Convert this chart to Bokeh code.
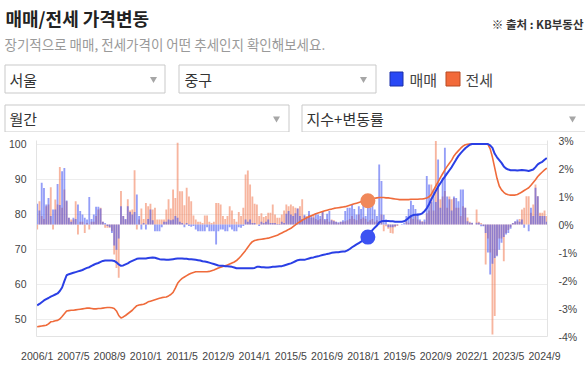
from bokeh.plotting import figure
from bokeh.layouts import column
from bokeh.models import Range1d, LinearAxis, FixedTicker, PrintfTickFormatter
from bokeh.core.properties import value
from bokeh.embed import file_html
from bokeh.resources import INLINE

FONT = "Noto Sans CJK KR"
NUM_FONT = "Liberation Sans"

# ---------------- data ----------------
N_MONTHS = 226  # 2006/1 .. 2024/10
MONTHS = [f"{2006 + i // 12}/{i % 12 + 1}" for i in range(N_MONTHS)]
TICK_IDX = list(range(0, 225, 16))
TICK_LABELS = [MONTHS[i] for i in TICK_IDX]
HOVER_IDX = 146  # 2018/3

# 매매 지수
BUY_INDEX = [
    53.9, 54.3, 54.8, 55.3, 55.7, 56.0, 56.4, 56.7, 57.0, 57.3, 58.0, 59.0,
    60.8, 62.5, 62.8, 63.0, 63.2, 63.4, 63.6, 63.8, 64.0, 64.3, 64.6, 64.8,
    65.2, 65.5, 65.8, 66.0, 66.3, 66.6, 66.7, 66.7, 66.7, 66.7, 66.6, 66.2,
    65.6, 65.2, 65.3, 65.6, 65.9, 66.3, 66.6, 66.9, 67.2, 67.3, 67.3, 67.3,
    67.3, 67.4, 67.5, 67.6, 67.5, 67.3, 67.1, 67.0, 67.0, 66.9, 66.9, 67.0,
    67.1, 67.2, 67.3, 67.3, 67.3, 67.2, 67.2, 67.1, 67.1, 67.0, 66.9, 66.8,
    66.7, 66.5, 66.4, 66.3, 66.1, 65.9, 65.7, 65.5, 65.3, 65.2, 65.2, 65.1,
    65.1, 65.0, 64.9, 64.7, 64.5, 64.5, 64.5, 64.5, 64.5, 64.5, 64.5, 64.5,
    64.6, 64.9, 64.9, 64.8, 64.8, 64.7, 64.7, 64.8, 64.9, 64.9, 65.0, 65.1,
    65.1, 65.3, 65.5, 65.7, 65.9, 66.2, 66.5, 66.8, 66.9, 66.9, 66.9, 67.1,
    67.3, 67.5, 67.6, 67.8, 67.9, 68.1, 68.3, 68.4, 68.6, 68.7, 68.9, 69.0,
    69.1, 69.1, 69.2, 69.3, 69.3, 69.6, 70.0, 70.5, 70.9, 71.3, 71.7, 72.1,
    72.6, 73.0, 73.4, 74.4, 75.4, 76.1, 76.7, 77.6, 77.9, 78.0, 78.0, 78.0,
    77.9, 77.9, 77.8, 77.8, 77.8, 77.8, 77.9, 78.3, 78.9, 79.4, 79.7, 79.8,
    79.8, 79.9, 80.2, 80.8, 81.6, 82.8, 84.2, 85.4, 86.6, 87.8, 88.8, 89.8,
    90.7, 91.6, 92.5, 93.4, 94.5, 95.6, 96.6, 97.4, 98.1, 98.8, 99.3, 99.8,
    100.0, 100.0, 100.0, 100.0, 100.0, 100.0, 100.0, 100.0, 99.6, 98.9, 97.2, 96.2,
    95.4, 94.6, 93.6, 93.0, 92.7, 92.5, 92.5, 92.5, 92.4, 92.5, 92.6, 92.5,
    92.4, 92.3, 92.5, 92.7, 93.4, 94.2, 94.6, 94.9, 95.5, 96.0,
]

# 전세 지수
JEONSE_INDEX = [
    47.8, 47.9, 48.0, 48.1, 48.2, 48.6, 49.2, 49.3, 49.5, 49.6, 50.0, 50.7,
    51.5, 52.3, 52.4, 52.5, 52.5, 52.6, 52.7, 52.8, 52.9, 53.0, 53.1, 53.1,
    53.0, 52.9, 52.9, 53.0, 53.0, 53.1, 53.2, 53.3, 53.3, 53.2, 53.0, 52.3,
    51.0, 50.3, 50.6, 51.0, 51.5, 52.0, 52.5, 53.2, 53.8, 54.0, 54.1, 54.2,
    54.5, 54.9, 55.1, 55.3, 55.5, 55.7, 55.9, 56.1, 56.2, 56.3, 56.6, 57.0,
    57.6, 58.8, 60.2, 61.0, 61.6, 62.0, 62.4, 62.8, 63.1, 63.3, 63.5, 63.5,
    63.5, 63.5, 63.5, 63.5, 63.6, 63.8, 64.0, 64.3, 64.6, 64.8, 65.0, 65.2,
    65.4, 65.7, 66.0, 66.3, 66.7, 67.3, 68.0, 68.8, 69.6, 70.5, 71.4, 72.1,
    72.4, 72.6, 72.7, 72.8, 72.9, 73.0, 73.1, 73.3, 73.5, 73.7, 73.9, 74.3,
    74.6, 74.9, 75.2, 75.6, 75.9, 76.4, 76.9, 77.4, 77.8, 78.2, 78.6, 78.9,
    79.2, 79.5, 79.8, 80.1, 80.3, 80.5, 80.7, 80.9, 81.1, 81.3, 81.4, 81.6,
    81.7, 81.8, 81.9, 82.0, 82.1, 82.3, 82.5, 82.7, 82.9, 83.1, 83.3, 83.5,
    83.6, 83.7, 83.8, 84.1, 84.3, 84.5, 84.6, 84.7, 84.7, 84.7, 84.6, 84.6,
    84.5, 84.4, 84.3, 84.2, 84.1, 84.1, 84.1, 84.1, 84.1, 84.2, 84.2, 84.2,
    84.2, 84.3, 84.3, 84.4, 84.6, 84.9, 85.6, 86.8, 88.0, 89.2, 90.4, 91.5,
    92.6, 93.6, 94.5, 95.4, 96.6, 97.4, 98.1, 98.8, 99.4, 99.8, 99.9, 100.0,
    100.0, 100.0, 100.0, 100.0, 100.0, 100.0, 100.0, 99.9, 98.6, 96.2, 93.2, 90.2,
    88.0, 86.9, 86.2, 85.7, 85.5, 85.4, 85.4, 85.4, 85.6, 85.9, 86.3, 86.7,
    87.1, 87.5, 88.2, 89.0, 89.8, 90.7, 91.4, 92.0, 92.6, 93.1,
]

# 매매 변동률 (%)
BUY_CHANGE = [
    0.74, 0.50, 1.49, 1.30, 0.71, 0.95, 0.30, 0.54, 0.54, 1.45, 0.70, 1.90,
    2.02, 0.86, 0.24, 0.10, 0.24, 0.20, 0.71, 0.48, 0.36, 0.24, 0.18, 0.98,
    0.20, 0.36, 0.63, 0.63, 0.57, 0.10, 0.05, -0.05, -0.10, -0.30, -0.75, -0.90,
    -0.50, 0.65, 0.30, 0.20, 0.65, 0.45, 0.36, 0.45, 1.07, 0.30, -0.18, 0.05,
    -0.18, 0.20, 0.54, 0.15, -0.24, -0.24, -0.24, -0.10, 0.10, 0.10, 0.18, 0.15,
    0.18, 0.30, 0.24, 0.10, 0.05, -0.10, 0.05, -0.05, -0.08, -0.05, -0.18, -0.24,
    -0.24, -0.24, -0.24, -0.10, -0.24, -0.24, -0.24, -0.71, -0.24, -0.18, -0.18, -0.24,
    -0.24, -0.10, -0.18, -0.24, -0.24, -0.10, -0.12, -0.05, 0.18, 0.10, 0.18, 0.05,
    0.05, 0.00, -0.05, 0.10, 0.05, 0.10, 0.18, 0.05, 0.05, 0.05, 0.02, 0.02,
    0.10, 0.05, 0.38, 0.48, 0.36, 0.30, 0.40, 0.57, 0.30, 0.20, 0.35, 0.25,
    0.48, 0.30, 0.25, 0.38, 0.36, 0.30, 0.45, 0.20, 0.38, 0.48, 0.15, 0.12,
    0.10, 0.08, 0.10, 0.15, 0.48, 0.60, 0.60, 0.71, 0.55, 0.36, 0.65, 0.55,
    0.77, 0.30, 0.70, 0.60, 0.83, 0.54, 0.30, 2.14, 1.55, 0.35, 0.18, -0.10,
    -0.10, -0.10, -0.06, -0.03, 0.00, 0.02, 0.05, 0.30, 0.55, 0.85, 0.70, 0.55,
    0.40, 0.18, 0.10, 0.18, 1.73, 1.43, 0.80, 1.25, 0.80, 2.32, 0.60, 1.67,
    2.74, 1.00, 0.90, 0.50, 1.00, 0.95, 0.83, 1.25, 1.25, 0.60, 0.12, 0.06,
    0.06, 0.00, 0.06, 0.06, -0.06, -0.06, -0.30, -1.00, -1.79, -1.40, -1.20, -1.13,
    -0.90, -0.65, -0.45, -0.36, -0.30, -0.15, 0.05, 0.12, 0.18, 0.10, 0.18, -0.12,
    0.00, -0.24, 0.60, 0.30, 1.31, 1.01, 0.30, 0.30, 0.30, 0.10,
]

# 전세 변동률 (%)
JEONSE_CHANGE = [
    -0.18, 0.83, 0.30, 0.20, 0.65, 0.71, 1.33, -0.18, 0.89, 0.71, 2.05, 0.60,
    1.25, 0.83, 0.24, 0.18, 0.18, 0.83, -0.36, 0.10, 0.10, -0.30, 0.05, -0.18,
    0.10, 0.10, 0.30, 0.54, 0.60, 0.10, -0.12, -0.12, -0.12, -0.24, -1.07, -1.55,
    -1.90, 1.20, 0.30, 0.18, 0.90, 0.50, 0.54, 1.94, -0.18, 0.18, 0.57, 0.20,
    0.77, 0.65, 0.74, 0.54, 0.60, 0.18, 0.18, 0.18, 0.18, 0.54, 0.90, 0.57,
    1.25, 0.95, 2.92, 1.19, 1.19, 0.69, 1.31, 1.00, 0.83, 0.32, 0.18, 0.10,
    0.10, 0.05, 0.32, 0.32, 0.10, 0.05, 0.10, 0.77, 0.77, 0.71, 0.30, 0.20,
    0.30, 0.65, 0.50, 0.20, 0.10, 0.45, 0.30, 0.60, 1.79, 1.93, 1.43, 1.00,
    0.74, 0.71, 0.30, 0.40, 0.27, 0.30, 0.42, 0.42, 0.71, 0.36, 0.24, 0.24,
    0.36, 0.50, 0.71, 0.65, 0.71, 0.65, 0.60, 0.57, 0.65, 0.90, 0.30, 0.30,
    0.35, 0.24, 0.36, 0.20, 0.15, 0.20, 0.48, 0.15, 0.20, 0.10, 0.18, 0.15,
    0.10, 0.05, 0.10, 0.10, 0.12, 0.15, 0.20, 0.30, 0.20, 0.15, 0.36, 0.20,
    0.25, 0.20, 0.10, 0.15, 0.20, 0.10, 0.15, 0.10, 0.36, -0.24, -0.06, -0.15,
    -0.30, -0.32, -0.10, -0.05, 0.00, 0.00, 0.00, 0.12, 0.06, 0.30, 0.20, 0.30,
    0.18, 0.12, 0.12, 0.10, 0.40, 0.50, 1.43, 0.50, 2.98, 1.38, 0.90, 1.00,
    1.20, 0.60, 1.00, 0.90, 0.95, 0.60, 0.60, 0.30, 0.65, 0.60, 0.25, 0.10,
    0.05, 0.00, 0.54, 0.10, 0.05, -0.05, -1.43, -0.50, -1.00, -3.93, -3.27, -1.10,
    -0.50, -0.50, -1.31, -0.30, -0.20, -0.10, 0.05, 0.10, 0.12, 0.20, 0.54, 0.60,
    1.01, 1.01, 0.42, 0.71, 1.43, 1.01, 0.42, 0.42, 0.50, 0.30,
]

IDX = list(range(N_MONTHS))

BLUE = "#2a3fe5"
ORANGE = "#ef6b3b"

# ---------------- header ----------------
hdr = figure(width=585, height=132, x_range=Range1d(0, 585), y_range=Range1d(132, 0),
             output_backend="svg", toolbar_location=None, min_border=0,
             x_axis_location=None, y_axis_location=None, outline_line_color=None)
hdr.grid.visible = False
hdr.frame_align = False

hdr.text(x=[5], y=[17], text=["매매/전세 가격변동"], text_font=value(FONT),
         text_font_size="18px", text_font_style="bold", text_color="#222222",
         text_baseline="middle", text_align="left")
hdr.text(x=[583], y=[23], text=["※ 출처 : KB부동산"], text_font=value(FONT),
         text_font_size="11.5px", text_font_style="bold", text_color="#333333",
         text_baseline="middle", text_align="right")
hdr.text(x=[4], y=[43], text=["장기적으로 매매, 전세가격이 어떤 추세인지 확인해보세요."],
         text_font=value(FONT), text_font_size="13.5px", text_color="#9a9a9a",
         text_baseline="middle", text_align="left")

hdr.quad(left=[4.5, 178.5, 4.5, 301.5], right=[164.5, 375.5, 288.5, 590],
         top=[64.5, 64.5, 104.5, 104.5], bottom=[92.5, 92.5, 131.5, 131.5],
         fill_color="white", line_color="#c9c9c9", line_width=1)
hdr.text(x=[9, 184, 9, 306], y=[78.5, 78.5, 118, 118], text=["서울", "중구", "월간", "지수+변동률"],
         text_font=value(FONT), text_font_size="15px", text_color="#333333",
         text_baseline="middle", text_align="left")
hdr.scatter(x=[153, 363, 276, 572], y=[78.5, 78.5, 118, 118], marker="inverted_triangle",
            size=7, fill_color="#a6a6a6", line_color=None)

hdr.quad(left=[389.5], right=[402.5], top=[71.5], bottom=[85.5],
         fill_color="#2848f5", line_color="#1a2fa8", line_width=1)
hdr.quad(left=[445.5], right=[459.5], top=[71.5], bottom=[85.5],
         fill_color="#f26a3a", line_color="#b84a22", line_width=1)
hdr.text(x=[409, 465], y=[78.5, 78.5], text=["매매", "전세"], text_font=value(FONT),
         text_font_size="15px", text_color="#444444", text_baseline="middle", text_align="left")

# ---------------- chart ----------------
p = figure(width=585, height=233, x_range=Range1d(-0.3, 225.3), y_range=Range1d(45, 101),
           output_backend="svg", toolbar_location=None, min_border_left=36,
           min_border_right=38, min_border_top=8, min_border_bottom=29,
           outline_line_color=None)
p.frame_align = False
p.extra_y_ranges = {"pct": Range1d(-4, 3)}

p.vbar(x=IDX, top=JEONSE_CHANGE, bottom=0, width=0.82, y_range_name="pct",
       fill_color="#f07850", fill_alpha=0.55, line_color=None)
p.vbar(x=IDX, top=BUY_CHANGE, bottom=0, width=0.82, y_range_name="pct",
       fill_color="#3d4ef0", fill_alpha=0.55, line_color=None)

p.line(x=IDX, y=JEONSE_INDEX, line_color=ORANGE, line_width=1.6)
p.line(x=IDX, y=BUY_INDEX, line_color=BLUE, line_width=2)

p.scatter(x=[HOVER_IDX], y=[JEONSE_INDEX[HOVER_IDX]], size=15, fill_color="#f0885a", line_color=None)
p.scatter(x=[HOVER_IDX], y=[BUY_INDEX[HOVER_IDX]], size=15, fill_color="#3c52f2", line_color=None)

AX_COLOR = "#e3e3e3"
LABEL_COLOR = "#444444"

p.xaxis.ticker = FixedTicker(ticks=TICK_IDX)
p.xaxis.major_label_overrides = {i: lab for i, lab in zip(TICK_IDX, TICK_LABELS)}
p.yaxis.ticker = FixedTicker(ticks=[50, 60, 70, 80, 90, 100])

right = LinearAxis(y_range_name="pct", ticker=FixedTicker(ticks=[-4, -3, -2, -1, 0, 1, 2, 3]),
                   formatter=PrintfTickFormatter(format="%d%%"))
p.add_layout(right, "right")

for ax in p.axis:
    ax.axis_line_color = AX_COLOR
    ax.major_tick_line_color = None
    ax.minor_tick_line_color = None
    ax.major_tick_out = 0
    ax.major_tick_in = 0
    ax.minor_tick_out = 0
    ax.major_label_text_font = NUM_FONT
    ax.major_label_text_font_size = "10.5px"
    ax.major_label_text_color = LABEL_COLOR
p.xaxis.major_label_standoff = 13
p.yaxis[0].major_label_standoff = 10
right.major_label_standoff = 11

p.xgrid.visible = False
p.ygrid.grid_line_color = "#ededed"

layout = column(hdr, p, spacing=0)

open("out.html", "w").write(file_html(layout, INLINE))
